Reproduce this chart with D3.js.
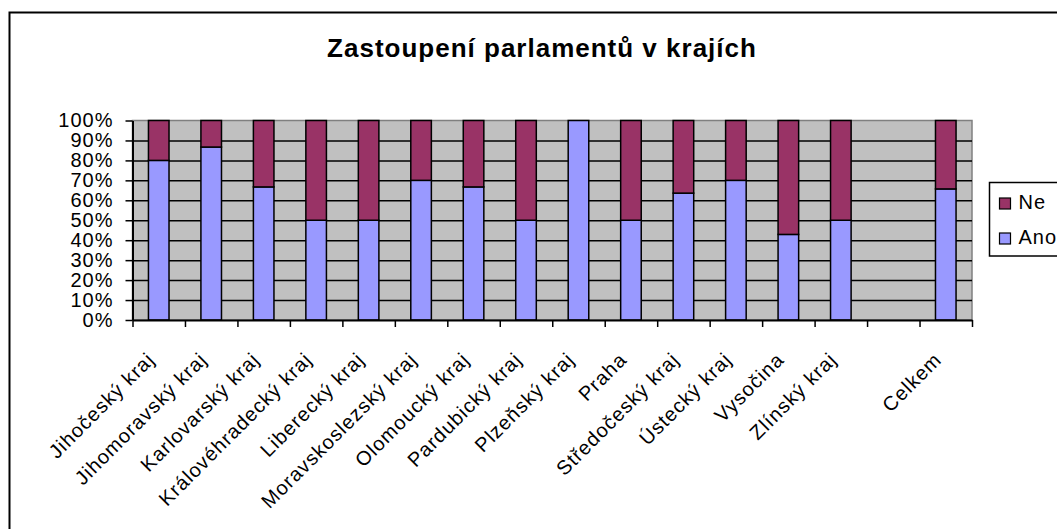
<!DOCTYPE html>
<html>
<head>
<meta charset="utf-8">
<script src="https://cdn.jsdelivr.net/npm/d3@7"></script>
<style>
  body { margin: 0; background: #fff; }
  svg text { font-family: "Liberation Sans", Arial, sans-serif; fill: #000; }
</style>
</head>
<body>
<svg id="chart_svg" width="1057" height="529"></svg>
<script>
// data (percent of regions with / without a youth parliament)
var categories = ["Jihočeský kraj", "Jihomoravský kraj", "Karlovarský kraj", "Královéhradecký kraj",
                  "Liberecký kraj", "Moravskoslezský kraj", "Olomoucký kraj", "Pardubický kraj",
                  "Plzeňský kraj", "Praha", "Středočeský kraj", "Ústecký kraj", "Vysočina",
                  "Zlínský kraj", "", "Celkem"];
var ano = [80, 86.7, 66.7, 50, 50, 70, 66.7, 50, 100, 50, 63.6, 70, 42.9, 50, null, 65.7];
var ne  = [20, 13.3, 33.3, 50, 50, 30, 33.3, 50, 0, 50, 36.4, 30, 57.1, 50, null, 34.3];
var yTicks = [0, 10, 20, 30, 40, 50, 60, 70, 80, 90, 100];
var seriesNames = ["Ne", "Ano"];
var colors = { "Ano": "#9999FF", "Ne": "#993366" };

var plot = { left: 132.5, right: 972, top: 120.5, bottom: 320 };

var base = d3.select('#chart_svg');

// outer chart frame (runs off the page right and bottom)
base.append("rect")
    .attr("x", 9.5).attr("y", 12.5)
    .attr("width", 1100).attr("height", 560)
    .attr("fill", "#fff")
    .attr("stroke", "#000")
    .attr("stroke-width", 2);

// title
base.append("text")
    .text("Zastoupení parlamentů v krajích")
    .attr("x", 542).attr("y", 57)
    .attr("text-anchor", "middle")
    .attr("font-size", "26px")
    .attr("font-weight", "bold")
    .attr("letter-spacing", "1px");

var x = d3.scaleBand()
    .domain(d3.range(categories.length))
    .range([plot.left, plot.right]);
var xEdge = d3.scaleLinear()
    .domain([0, categories.length])
    .range([plot.left, plot.right]);
var y = d3.scaleLinear()
    .domain([0, 100])
    .range([plot.bottom, plot.top]);

// plot background
base.append("rect")
    .attr("x", plot.left).attr("y", plot.top)
    .attr("width", plot.right - plot.left)
    .attr("height", plot.bottom - plot.top)
    .attr("fill", "#C0C0C0")
    .attr("stroke", "#808080")
    .attr("stroke-width", 1.5);

// gridlines
var grid = base.append("g")
    .attr("transform", "translate(" + plot.left + ",0)")
    .call(d3.axisLeft(y)
        .tickValues(yTicks.slice(1, -1))
        .tickSize(-(plot.right - plot.left))
        .tickFormat(""));
grid.select(".domain").remove();
grid.selectAll("line").attr("stroke", "#000").attr("stroke-width", 1.5);

// stacked bars
var rows = categories.map(function(c, i) { return { i: i, Ano: ano[i], Ne: ne[i] }; })
    .filter(function(r) { return r.Ano != null; });
var stack = d3.stack().keys(["Ano", "Ne"])(rows);
var barW = x.bandwidth() / 2.55;

base.append("g").selectAll("g")
    .data(stack)
    .join("g")
    .attr("fill", function(s) { return colors[s.key]; })
    .selectAll("rect")
    .data(function(s) { return s.filter(function(d) { return d[1] - d[0] > 0; }); })
    .join("rect")
    .attr("x", function(d) { return x(d.data.i) + x.bandwidth() / 2 - barW / 2; })
    .attr("width", barW)
    .attr("y", function(d) { return y(d[1]); })
    .attr("height", function(d) { return y(d[0]) - y(d[1]); })
    .attr("stroke", "#000")
    .attr("stroke-width", 1.5);

// y axis
var yAxis = base.append("g")
    .attr("transform", "translate(" + plot.left + ",0)")
    .call(d3.axisLeft(y)
        .tickValues(yTicks)
        .tickSize(7)
        .tickSizeOuter(0)
        .tickPadding(12)
        .tickFormat(function(d) { return d + "%"; }));
yAxis.select(".domain").attr("stroke", "#000").attr("stroke-width", 2);
yAxis.selectAll("line").attr("stroke", "#000").attr("stroke-width", 1.5);
yAxis.selectAll("text")
    .attr("font-size", "20px")
    .attr("letter-spacing", "1px")
    .attr("font-family", null);

// x axis, ticks between categories
var xAxis = base.append("g")
    .attr("transform", "translate(0," + plot.bottom + ")")
    .call(d3.axisBottom(xEdge)
        .tickValues(d3.range(categories.length + 1))
        .tickSize(7)
        .tickSizeOuter(0)
        .tickFormat(""));
xAxis.select(".domain").attr("stroke", "#000").attr("stroke-width", 2);
xAxis.selectAll("line").attr("stroke", "#000").attr("stroke-width", 1.5);

// rotated category labels
base.append("g").selectAll("text")
    .data(categories)
    .join("text")
    .text(function(d) { return d; })
    .attr("text-anchor", "end")
    .attr("font-size", "20px")
    .attr("letter-spacing", "1px")
    .attr("transform", function(d, i) {
        return "translate(" + (x(i) + x.bandwidth() / 2 - 3) + ",361) rotate(-45)";
    });

// legend
var legend = base.append("g").attr("transform", "translate(989.5,182.5)");
legend.append("rect")
    .attr("width", 120).attr("height", 73.5)
    .attr("fill", "#fff")
    .attr("stroke", "#000")
    .attr("stroke-width", 1.5);
var item = legend.selectAll("g.item")
    .data(seriesNames)
    .join("g")
    .attr("class", "item")
    .attr("transform", function(d, i) { return "translate(10," + (15.5 + i * 35) + ")"; });
item.append("rect")
    .attr("width", 11).attr("height", 11)
    .attr("fill", function(d) { return colors[d]; })
    .attr("stroke", "#000")
    .attr("stroke-width", 1.2);
item.append("text")
    .text(function(d) { return d; })
    .attr("x", 19).attr("y", 11)
    .attr("font-size", "20px")
    .attr("letter-spacing", "1px");
</script>
</body>
</html>
